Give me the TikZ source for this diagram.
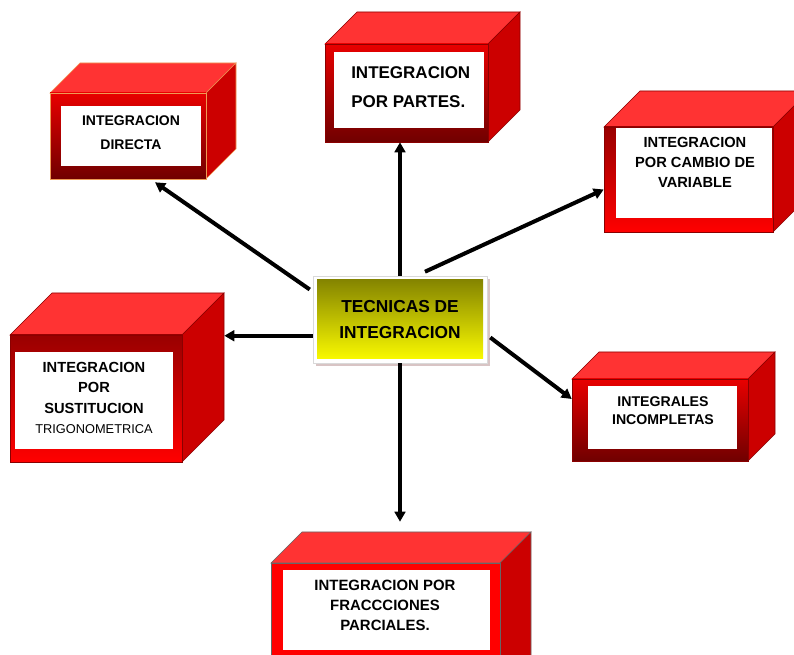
\documentclass[tikz,border=0pt]{standalone}
\usepackage{fontspec}
\setmainfont{Liberation Sans}
\usetikzlibrary{arrows.meta,positioning,fit,shadows}
\definecolor{ctop}{HTML}{FF3333}
\definecolor{cside}{HTML}{CC0000}
\definecolor{cred}{HTML}{E80000}
\definecolor{cbright}{HTML}{FF0000}
\definecolor{cdark}{HTML}{700000}
\definecolor{cmid}{HTML}{990000}
\definecolor{cedge}{HTML}{8A0000}
\definecolor{corange}{HTML}{EE9A55}
\definecolor{tecolive}{HTML}{7F7F00}
\definecolor{tecyellow}{HTML}{FFFF00}
\definecolor{tecshadow}{HTML}{D8C4C4}
\tikzset{
  % black connector with a small solid head
  arr/.style   = {-{Triangle[length=7.5pt,width=8pt]}, line width=3pt, black},
  txt/.style 2 args = {font=\fontsize{#1}{#2}\selectfont\bfseries, align=center, inner sep=0pt},
  frontdark/.style  = {top color=cred, bottom color=cdark},
  frontlight/.style = {top color=cmid, bottom color=cbright},
  frontflat/.style  = {fill=cbright},
  tecbox/.style = {fill=white, draw=black!15, thin, minimum width=130.5pt, minimum height=65.25pt,
                   inner sep=0pt, align=center, font=\fontsize{13pt}{20pt}\selectfont\bfseries,
                   drop shadow={shadow xshift=2pt, shadow yshift=-2pt, fill=tecshadow, opacity=1},
                   path picture={\shade[top color=tecolive, bottom color=tecyellow]
                     ([shift={(4,4)}]path picture bounding box.north west) rectangle
                     ([shift={(-4,-4)}]path picture bounding box.south east);}},
}
% red box seen from the front: top face, side face, shaded front
\newcommand{\redcube}[8][cedge]{%
  \filldraw[ctop, draw=#1, thin] (#3,#4) -- (#3+#7,#4-#7) -- (#5+#7,#4-#7) -- (#5,#4) -- cycle;
  \filldraw[cside, draw=#1, thin] (#5,#4) -- (#5+#7,#4-#7) -- (#5+#7,#6-#7) -- (#5,#6) -- cycle;
  \path[#8, draw=#1, thin] (#3,#4) rectangle (#5,#6);
  \node[fit={(#3,#4)(#5,#6)}, inner sep=0pt] (#2) {};
}

\begin{document}
\begin{tikzpicture}[x=0.75pt,y=-0.75pt]
\useasboundingbox (0,0) rectangle (794,655);
\clip (0,0) rectangle (794,655);
% boxes
\redcube[corange]{directa}{50}{93}{206}{179}{30}{frontdark}
\fill[white] (61,106) rectangle (201,166);
\node[txt={10.5pt}{18pt}] (directa txt) at (131,133) {INTEGRACION\\DIRECTA};

\redcube{partes}{325}{44}{488}{142}{32}{frontdark}
\fill[white] (334,52) rectangle (484,128);
\node[txt={12.75pt}{21.75pt}, align=left, anchor=west] (partes txt) at (351,87) {INTEGRACION\\POR PARTES.};

\redcube{cambio}{604}{127}{773}{232}{36}{frontlight}
\fill[white] (616,128) rectangle (772,218);
\node[txt={11pt}{15pt}] (cambio txt) at (695,162) {INTEGRACION\\POR CAMBIO DE\\VARIABLE};

\redcube{sust}{10}{335}{182}{462}{42}{frontlight}
\fill[white] (15,352) rectangle (173,449);
\node[txt={11pt}{15.4pt}] (sust txt) at (94,398)
  {INTEGRACION\\POR\\SUSTITUCION\\{\normalfont\fontsize{9.6pt}{15.4pt}\selectfont TRIGONOMETRICA}};

\redcube{incomp}{572}{379}{748}{461}{27}{frontdark}
\fill[white] (588,386) rectangle (737,449);
\node[txt={10.6pt}{13.5pt}] (incomp txt) at (663,411) {INTEGRALES\\INCOMPLETAS};

\redcube[black!60]{fracc}{271}{563}{500}{690}{31}{frontflat}
\fill[white] (283,570) rectangle (490,650);
\node[txt={11.2pt}{15pt}] (fracc txt) at (385,605) {INTEGRACION POR\\FRACCCIONES\\PARCIALES.};

% centre
\node[tecbox] (tec) at (400,319.5) {TECNICAS DE\\INTEGRACION};

% arrows
\draw[arr] ([shift={(-3,-30)}]tec.west) -- ([shift={(27,3)}]directa.south);
\draw[arr] (tec.north) -- (tec.north |- partes.south);
\draw[arr] ([shift={(25,-4)}]tec.north) -- ([shift={(0,10)}]cambio.west);
\coordinate (sust tip) at ([shift={(42,1)}]sust.north east);
\draw[arr] (tec.west |- sust tip) -- (sust tip);
\draw[arr] ([shift={(3,18)}]tec.east) -- ([shift={(0,-21)}]incomp.west);
\draw[arr, shorten >=30.75pt] (tec.south) -- (tec.south |- fracc.north);
\end{tikzpicture}
\end{document}
